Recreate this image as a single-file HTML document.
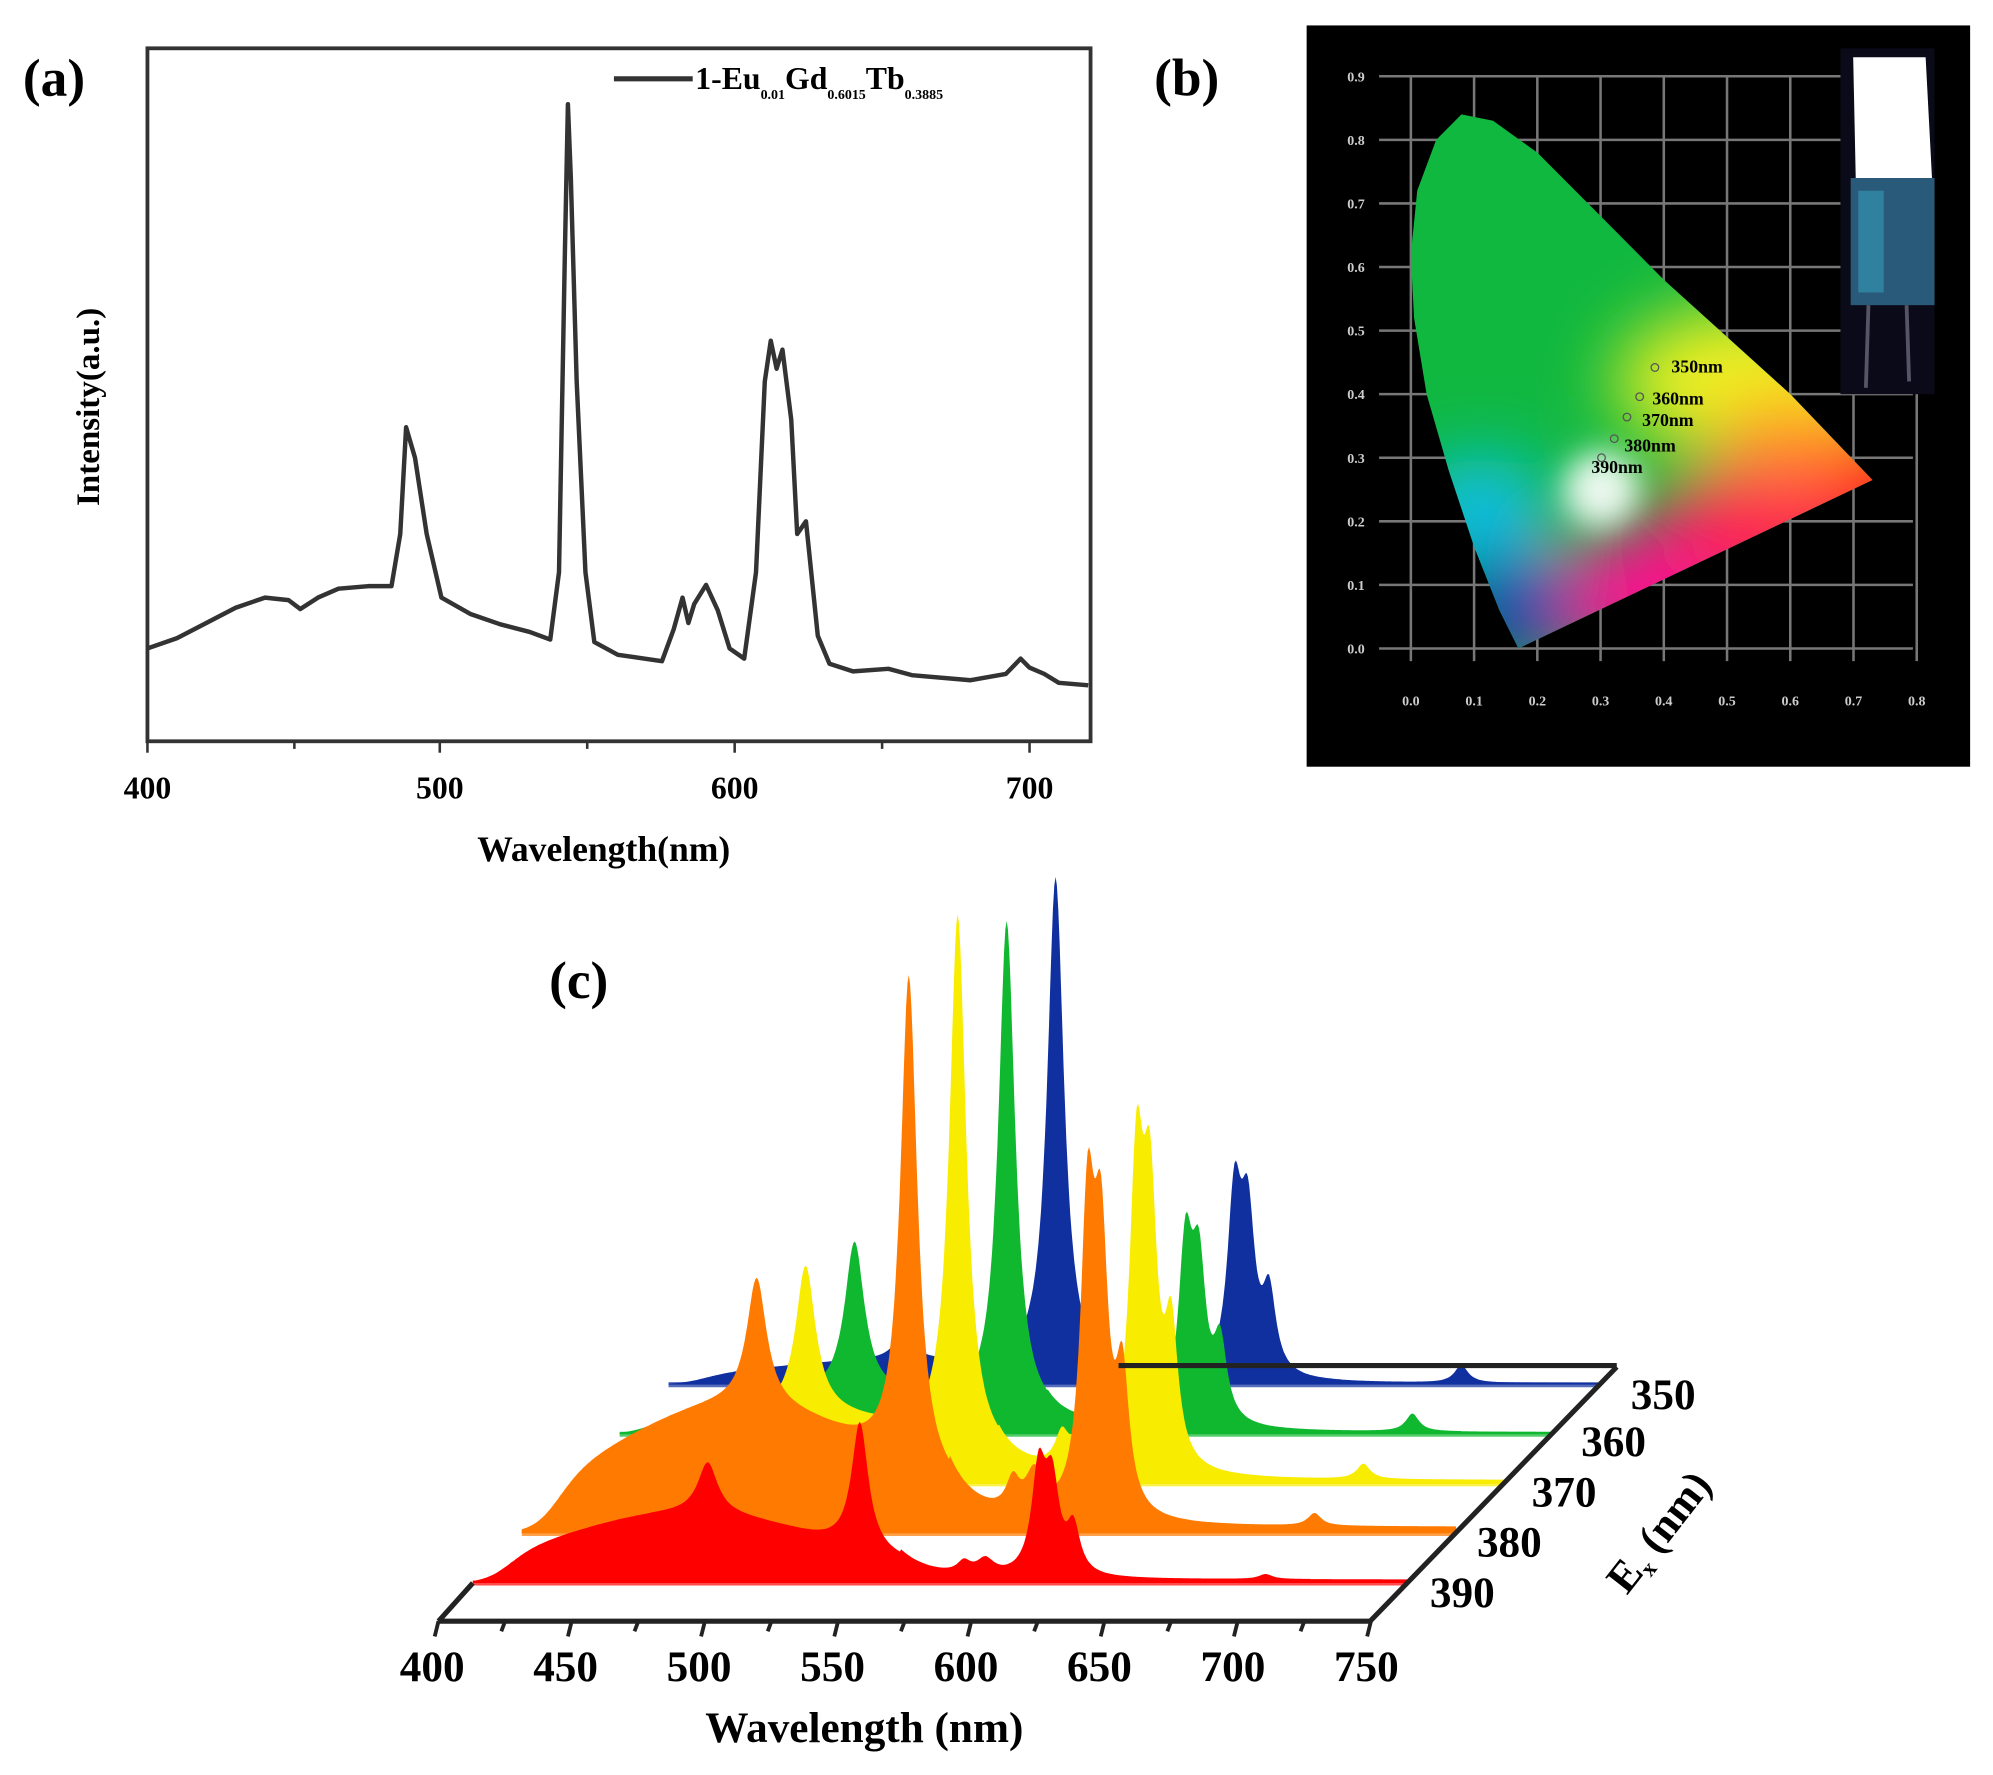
<!DOCTYPE html>
<html><head><meta charset="utf-8"><style>
html,body{margin:0;padding:0;background:#fff;}
svg{display:block;}
text{font-family:"Liberation Serif",serif;font-weight:bold;}
</style></head><body>
<svg id="s" width="1993" height="1775" viewBox="0 0 1568 1396" preserveAspectRatio="none" xmlns="http://www.w3.org/2000/svg">
<defs>
<clipPath id="cie"><path id="ciep" d=""/></clipPath>
<filter id="bl" x="-50%" y="-50%" width="200%" height="200%"><feGaussianBlur stdDeviation="28"/></filter>
<filter id="bl2" x="-50%" y="-50%" width="200%" height="200%"><feGaussianBlur stdDeviation="12"/></filter>
</defs>
<!-- Panel a -->
<text x="18" y="75" font-size="42">(a)</text>
<rect x="116" y="38" width="742" height="545" fill="none" stroke="#333" stroke-width="3"/>
<g stroke="#333" stroke-width="2">
<line x1="116" y1="583" x2="116" y2="592"/><line x1="231.6" y1="583" x2="231.6" y2="589"/>
<line x1="346" y1="583" x2="346" y2="592"/><line x1="462" y1="583" x2="462" y2="589"/>
<line x1="578" y1="583" x2="578" y2="592"/><line x1="694" y1="583" x2="694" y2="589"/>
<line x1="810" y1="583" x2="810" y2="592"/>
</g>
<g font-size="25" text-anchor="middle">
<text x="116" y="628">400</text><text x="346" y="628">500</text><text x="578" y="628">600</text><text x="810" y="628">700</text>
</g>
<text x="475" y="677" font-size="28" text-anchor="middle">Wavelength(nm)</text>
<text transform="translate(78,320) rotate(-90)" font-size="26" text-anchor="middle">Intensity(a.u.)</text>
<line x1="483" y1="62" x2="545" y2="62" stroke="#333" stroke-width="4"/>
<text x="547" y="70" font-size="25">1-Eu<tspan font-size="11" dy="8">0.01</tspan><tspan dy="-8">Gd</tspan><tspan font-size="11" dy="8">0.6015</tspan><tspan dy="-8">Tb</tspan><tspan font-size="11" dy="8">0.3885</tspan></text>
<polyline id="pa" fill="none" stroke="#333" stroke-width="3.5" stroke-linejoin="round" points=""/>
<!-- Panel b -->
<text x="908" y="75" font-size="42">(b)</text>
<rect x="1028" y="20" width="522" height="583" fill="#000"/>
<g id="grid" stroke="#777" stroke-width="2"></g>
<g id="cieg" clip-path="url(#cie)">
<rect x="1080" y="60" width="420" height="470" fill="#10b840"/>
<g filter="url(#bl)">
<ellipse cx="1380" cy="300" rx="110" ry="60" fill="#f0f020"/>
<ellipse cx="1470" cy="385" rx="100" ry="60" fill="#ff1010"/>
<ellipse cx="1380" cy="420" rx="80" ry="55" fill="#ff2050"/>
<ellipse cx="1290" cy="470" rx="70" ry="50" fill="#ff1090"/>
<ellipse cx="1165" cy="400" rx="55" ry="40" fill="#10c0f0"/>
<ellipse cx="1190" cy="480" rx="50" ry="45" fill="#1040b0"/>
<ellipse cx="1410" cy="345" rx="60" ry="30" fill="#ff9020"/>
</g>
<ellipse cx="1260" cy="385" rx="30" ry="30" fill="#fff" opacity="0.9" filter="url(#bl2)"/>
</g>
<g font-size="14" fill="#000">
<text x="1315" y="293">350nm</text><text x="1300" y="318">360nm</text><text x="1292" y="335">370nm</text><text x="1278" y="355">380nm</text><text x="1252" y="372">390nm</text>
</g>
<g fill="none" stroke="#555" stroke-width="1"><circle cx="1302" cy="289" r="3"/><circle cx="1290" cy="312" r="3"/><circle cx="1280" cy="328" r="3"/><circle cx="1270" cy="345" r="3"/><circle cx="1260" cy="360" r="3"/></g>
<rect x="1448" y="38" width="74" height="272" fill="#0a0a18"/>
<path d="M1458 45 L1515 45 L1520 140 L1460 140 Z" fill="#fff"/>
<rect x="1456" y="140" width="66" height="100" fill="#2a5a7a"/>
<rect x="1462" y="150" width="20" height="80" fill="#3080a0"/>
<line x1="1470" y1="240" x2="1468" y2="305" stroke="#556" stroke-width="3"/>
<line x1="1500" y1="240" x2="1502" y2="300" stroke="#556" stroke-width="3"/>
<!-- Panel c -->
<text x="432" y="785" font-size="42">(c)</text>
<g id="pc"></g>
<g stroke="#222" stroke-width="4" fill="none">
<line x1="345" y1="1275" x2="1078" y2="1275"/>
<line x1="1078" y1="1275" x2="1272" y2="1075"/>
<line x1="345" y1="1275" x2="372" y2="1245"/>
<line x1="880" y1="1074" x2="1272" y2="1074"/>
</g>
<g id="ticks" stroke="#222" stroke-width="3"></g>
<g font-size="34" text-anchor="middle" id="tl"></g>
<text x="680" y="1370" font-size="34" text-anchor="middle">Wavelength (nm)</text>
<g font-size="34">
<text x="1283" y="1108">350</text><text x="1244" y="1145">360</text><text x="1205" y="1185">370</text><text x="1162" y="1224">380</text><text x="1125" y="1264">390</text>
</g>
<text transform="translate(1280,1255) rotate(-52)" font-size="34">E<tspan font-size="18" dy="6">x</tspan><tspan dy="-6"> (nm)</tspan></text>
</svg>
<script>
var NS="http://www.w3.org/2000/svg";
function el(t,a,p){var e=document.createElementNS(NS,t);for(var k in a)e.setAttribute(k,a[k]);p.appendChild(e);return e;}
var ap=[[400,510],[410,502],[420,490],[430,478],[440,470],[448,472],[452,479],[458,470],[465,463],[475,461],[483,461],[486,420],[488,336],[491,360],[495,420],[500,470],[510,483],[520,491],[530,497],[537,503],[540,450],[542,200],[543,82],[544,140],[546,300],[549,450],[552,505],[560,515],[575,520],[579,495],[582,470],[584,490],[586,475],[590,460],[594,480],[598,510],[603,518],[607,450],[610,300],[612,268],[614,290],[616,275],[619,330],[621,420],[624,410],[628,500],[632,522],[640,528],[652,526],[660,531],[680,535],[692,530],[697,518],[700,525],[705,530],[710,537],[720,539]];
document.getElementById("pa").setAttribute("points",ap.map(function(p){return (116+(p[0]-400)*2.313).toFixed(1)+","+p[1];}).join(" "));
var g=document.getElementById("grid"),s=document.getElementById("s");
for(var i=0;i<=9;i++){var y=510-i*50;el("line",{x1:1085,y1:y,x2:1505,y2:y},g);var t=el("text",{x:1060,y:y+4,"font-size":11,fill:"#ccc"},s);t.textContent=(i/10).toFixed(1);}
for(var i=0;i<=8;i++){var x=1110+i*49.75;el("line",{x1:x,y1:60,x2:x,y2:520},g);var t=el("text",{x:x,y:555,"font-size":11,fill:"#ccc","text-anchor":"middle"},s);t.textContent=(i/10).toFixed(1);}
var cp=[[0.17,0.0],[0.14,0.06],[0.1,0.16],[0.06,0.28],[0.025,0.4],[0.005,0.52],[0.0,0.62],[0.01,0.72],[0.04,0.8],[0.08,0.84],[0.13,0.83],[0.2,0.78],[0.3,0.68],[0.4,0.58],[0.5,0.49],[0.6,0.4],[0.73,0.265]];
document.getElementById("ciep").setAttribute("d","M"+cp.map(function(p){return (1110+p[0]*497.5).toFixed(1)+" "+(510-p[1]*500).toFixed(1);}).join(" L")+"Z");
function lor(l,c,w){var d=(l-c)/w;return 1/(1+d*d);}
function spec(l,p){var rise=1/(1+Math.exp(-(l-412)/5));var bg=p.bg*rise*Math.exp(-Math.pow((l-480)/75,2))*(l<560?1:Math.exp(-(l-560)/20));
return bg+p.a*lor(l,488,4.5)+p.b*lor(l,545,3.8)+p.c*(0.6*lor(l,584,3)+0.8*lor(l,592,4))+p.d*(lor(l,612,3.2)+0.85*lor(l,617,3.2)+0.45*lor(l,625,3))+p.e*lor(l,697,3)+p.bg*0.05*(l>560?1:0);}
var ser=[
{c:"#1030a0",bg:18,a:20,b:390,cc:15,d:135,e:14,k:4},
{c:"#10b830",bg:30,a:120,b:388,cc:30,d:133,e:14,k:3},
{c:"#f8ec00",bg:55,a:115,b:420,cc:40,d:228,e:12,k:2},
{c:"#ff7a00",bg:100,a:100,b:390,cc:40,d:230,e:10,k:1},
{c:"#ff0000",bg:55,a:40,b:100,cc:15,d:80,e:4,k:0}];
var pc=document.getElementById("pc");
ser.forEach(function(p){var pp={bg:p.bg,a:p.a,b:p.b,c:p.cc,d:p.d,e:p.e};
var x0=372+p.k*38.5,y0=1245-p.k*39;var pts=[];
for(var l=400;l<=750;l+=0.5){pts.push((x0+(l-400)*2.1).toFixed(1)+","+(y0-spec(l,pp)).toFixed(1));}
var d="M"+x0+","+y0+" L"+pts.join(" L")+" L"+(x0+735)+","+y0+"Z";
var xe=1078+(1275-y0-30)*194/200;
el("line",{x1:x0,y1:y0,x2:xe+28,y2:y0,stroke:p.c,"stroke-width":4,opacity:0.7},pc);
el("path",{d:d,fill:p.c},pc);});
var tk=document.getElementById("ticks"),tl=document.getElementById("tl");
for(var i=0;i<=14;i++){var x=345+i*52.4;el("line",{x1:x,y1:1275,x2:x-3,y2:i%2?1283:1287},tk);}
for(var i=0;i<=7;i++){var t=el("text",{x:340+i*105,y:1322},tl);t.textContent=400+i*50;}
</script>
</body></html>
